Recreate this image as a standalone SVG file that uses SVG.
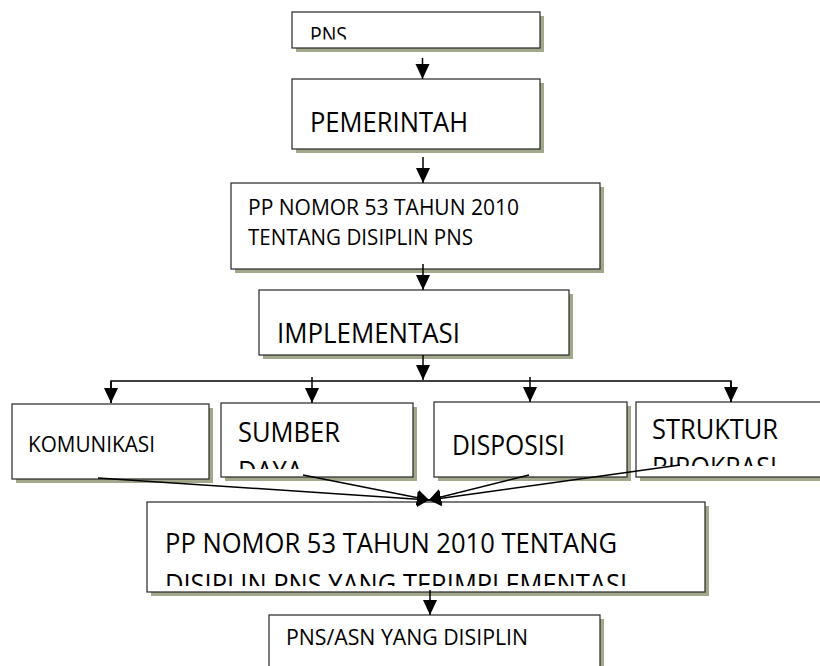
<svg xmlns="http://www.w3.org/2000/svg" width="820" height="666" viewBox="0 0 820 666">
<style>
.box{fill:#fff;stroke:#262626;stroke-width:1.2}
.sh{fill:#a1a88b}
.t{font-family:"Open Sans","Liberation Sans",sans-serif;fill:#000}
.s{font-size:22px}
.l{font-size:27px}
.c{stroke:#000;stroke-width:1.5;fill:none}
</style>
<defs>
<marker id="ah" markerUnits="userSpaceOnUse" viewBox="0 0 14 15" markerWidth="14" markerHeight="15" refX="15" refY="7.5" orient="auto"><path d="M0,0.5L15,7.5L0,14.5z" fill="#000"/></marker>
<marker id="bt" markerUnits="userSpaceOnUse" viewBox="0 0 12 16" markerWidth="12" markerHeight="16" refX="12" refY="8" orient="auto"><path d="M0,0L12,8L0,16z" fill="#000"/></marker>
<clipPath id="cp1"><rect x="292" y="12" width="248" height="27.5"/></clipPath>
<clipPath id="cp6"><rect x="221" y="403" width="192" height="66"/></clipPath>
<clipPath id="cp8"><rect x="636" y="402" width="190" height="64"/></clipPath>
<clipPath id="cp9"><rect x="147" y="502" width="558" height="84"/></clipPath>
</defs>

<g id="n-pns">
<rect class="sh" x="296" y="16" width="248" height="36"/>
<rect class="box" x="292" y="12" width="248" height="36"/>
<text class="t s" x="310" y="42.5" clip-path="url(#cp1)" textLength="37" lengthAdjust="spacingAndGlyphs">PNS</text>
</g>

<g id="n-pemerintah">
<rect class="sh" x="296" y="83" width="248" height="70"/>
<rect class="box" x="292" y="79" width="248" height="70"/>
<text class="t l" x="310" y="132" textLength="158" lengthAdjust="spacingAndGlyphs">PEMERINTAH</text>
</g>

<g id="n-pp">
<rect class="sh" x="235" y="187" width="369" height="86"/>
<rect class="box" x="231" y="183" width="369" height="86"/>
<text class="t s" x="248" y="215" textLength="271" lengthAdjust="spacingAndGlyphs">PP NOMOR 53 TAHUN 2010</text>
<text class="t s" x="248" y="245" textLength="225" lengthAdjust="spacingAndGlyphs">TENTANG DISIPLIN PNS</text>
</g>

<g id="n-implementasi">
<rect class="sh" x="263" y="294" width="310" height="65"/>
<rect class="box" x="259" y="290" width="310" height="65"/>
<text class="t l" x="277" y="343" textLength="183" lengthAdjust="spacingAndGlyphs">IMPLEMENTASI</text>
</g>

<g id="n-komunikasi">
<rect class="sh" x="16" y="408" width="197" height="75"/>
<rect class="box" x="12" y="404" width="197" height="75"/>
<text class="t s" x="28" y="452" textLength="127" lengthAdjust="spacingAndGlyphs">KOMUNIKASI</text>
</g>

<g id="n-sumberdaya">
<rect class="sh" x="225" y="407" width="192" height="74"/>
<rect class="box" x="221" y="403" width="192" height="74"/>
<g clip-path="url(#cp6)">
<text class="t l" x="238" y="442" textLength="102" lengthAdjust="spacingAndGlyphs">SUMBER</text>
<text class="t l" x="238" y="481" textLength="65" lengthAdjust="spacingAndGlyphs">DAYA</text>
</g>
</g>

<g id="n-disposisi">
<rect class="sh" x="438" y="406" width="193" height="75"/>
<rect class="box" x="434" y="402" width="193" height="75"/>
<text class="t l" x="452" y="455" textLength="113" lengthAdjust="spacingAndGlyphs">DISPOSISI</text>
</g>

<g id="n-struktur">
<rect class="sh" x="640" y="406" width="190" height="75"/>
<rect class="box" x="636" y="402" width="190" height="75"/>
<g clip-path="url(#cp8)">
<text class="t l" x="652" y="439" textLength="126" lengthAdjust="spacingAndGlyphs">STRUKTUR</text>
<text class="t l" x="652" y="476.5" textLength="125" lengthAdjust="spacingAndGlyphs">BIROKRASI</text>
</g>
</g>

<g id="n-ppimpl">
<rect class="sh" x="151" y="506" width="558" height="90"/>
<rect class="box" x="147" y="502" width="558" height="90"/>
<g clip-path="url(#cp9)">
<text class="t l" x="165" y="553" textLength="452" lengthAdjust="spacingAndGlyphs">PP NOMOR 53 TAHUN 2010 TENTANG</text>
<text class="t l" x="165" y="593.5" textLength="462" lengthAdjust="spacingAndGlyphs">DISIPLIN PNS YANG TERIMPLEMENTASI</text>
</g>
</g>

<g id="n-asn">
<rect class="sh" x="273" y="619" width="331" height="60"/>
<rect class="box" x="269" y="615" width="331" height="60"/>
<text class="t s" x="286" y="645" textLength="242" lengthAdjust="spacingAndGlyphs">PNS/ASN YANG DISIPLIN</text>
</g>

<g id="connectors">
<line class="c" x1="422.5" y1="58" x2="422.5" y2="79" marker-end="url(#ah)"/>
<line class="c" x1="423" y1="157" x2="423" y2="183" marker-end="url(#ah)"/>
<line class="c" x1="423" y1="264" x2="423" y2="290" marker-end="url(#ah)"/>
<line class="c" x1="423" y1="355" x2="423" y2="380" marker-end="url(#ah)"/>
<polyline class="c" points="111,403 111,381 731,381 731,402"/>
<line class="c" x1="111" y1="381" x2="111" y2="403" marker-end="url(#ah)"/>
<line class="c" x1="731" y1="381" x2="731" y2="402" marker-end="url(#ah)"/>
<line class="c" x1="312" y1="377" x2="312" y2="403" marker-end="url(#ah)"/>
<line class="c" x1="530" y1="377" x2="530" y2="402" marker-end="url(#ah)"/>
<line class="c" x1="98" y1="478" x2="429" y2="500" marker-end="url(#bt)"/>
<line class="c" x1="303" y1="475" x2="429" y2="500" marker-end="url(#bt)"/>
<line class="c" x1="529" y1="475" x2="429" y2="500" marker-end="url(#bt)"/>
<line class="c" x1="680" y1="465" x2="429" y2="500" marker-end="url(#bt)"/>
<line class="c" x1="430" y1="590" x2="430" y2="615" marker-end="url(#ah)"/>
</g>
</svg>
